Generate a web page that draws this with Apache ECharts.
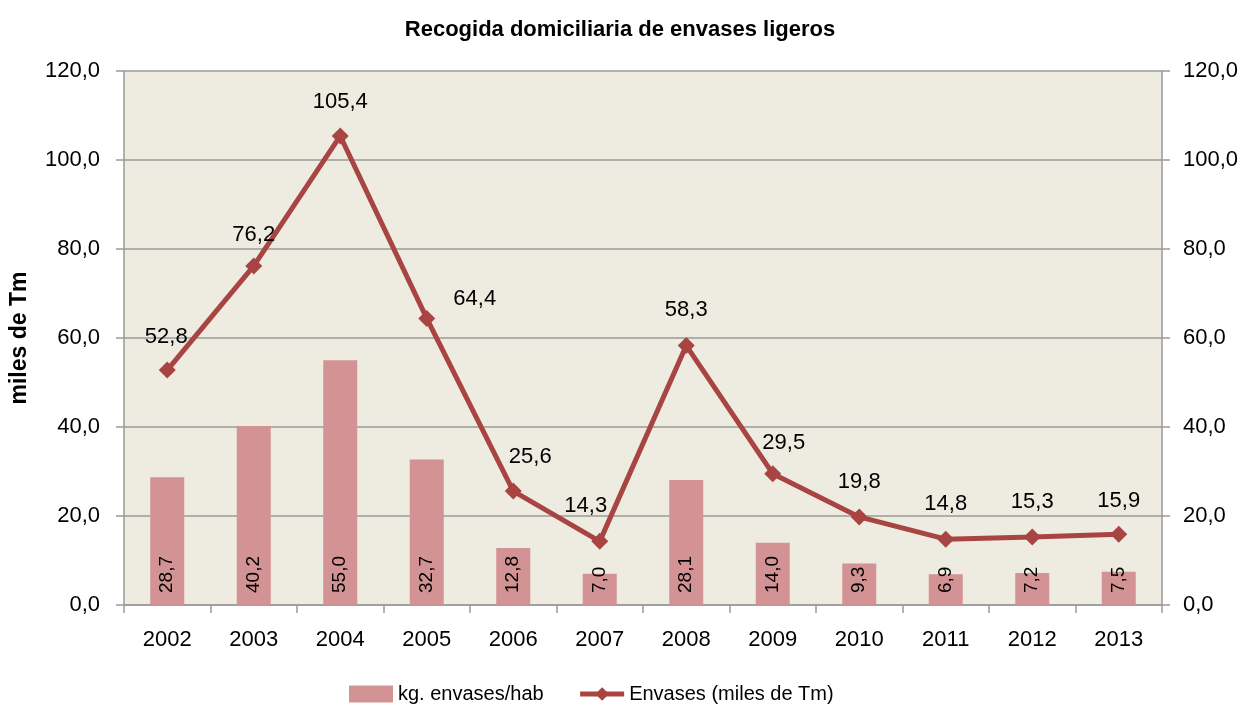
<!DOCTYPE html>
<html>
<head>
<meta charset="utf-8">
<script src="https://cdn.jsdelivr.net/npm/echarts@6/dist/echarts.min.js"></script>
<style>
  html, body { margin: 0; padding: 0; background: #fff; }
  #chart { width: 1243px; height: 709px; }
</style>
</head>
<body>
<div id="chart"></div>
<script>
// datos
var years = ['2002', '2003', '2004', '2005', '2006', '2007', '2008', '2009', '2010', '2011', '2012', '2013']
var kgHab = [28.7, 40.2, 55.0, 32.7, 12.8, 7.0, 28.1, 14.0, 9.3, 6.9, 7.2, 7.5]
var envases = [52.8, 76.2, 105.4, 64.4, 25.6, 14.3, 58.3, 29.5, 19.8, 14.8, 15.3, 15.9]
// desplazamiento de la etiqueta de cada punto de la linea
var lineLabelOffsets = [[-1, -4], [0, -1], [0, -5], [48, 10], [17, -5], [-14, -6], [0, -6], [11, -1], [0, -5], [0, -6], [0, -5], [0, -4]]

var font = '"Liberation Sans", Arial, sans-serif'
var fmt = function(v) { return Number(v).toFixed(1).replace('.', ',') }

var chart = echarts.init(document.getElementById('chart'))

var yAxisCommon = {
  type: 'value',
  min: 0,
  max: 120,
  interval: 20,
  axisLine: { show: true, lineStyle: { color: '#9a9a9a', width: 1.5 } },
  axisTick: { show: true, length: 8, lineStyle: { color: '#9a9a9a', width: 1.5 } },
  axisLabel: { color: '#000', fontSize: 22, fontFamily: font, formatter: fmt }
}

chart.setOption({
  textStyle: { fontFamily: font },
  title: {
    text: 'Recogida domiciliaria de envases ligeros',
    left: 615,
    textAlign: 'center',
    top: 14,
    textStyle: { fontSize: 22, fontWeight: 'bold', color: '#000', fontFamily: font }
  },
  grid: {
    left: 124,
    right: 81,
    top: 71,
    bottom: 104,
    show: true,
    backgroundColor: '#eeebe0',
    borderWidth: 0
  },
  legend: {
    bottom: 0,
    left: 344,
    itemGap: 34,
    itemWidth: 44,
    itemHeight: 17,
    textStyle: { fontSize: 20, color: '#000', fontFamily: font },
    data: [
      { name: 'kg. envases/hab', icon: 'rect' },
      { name: 'Envases (miles de Tm)', lineStyle: { width: 5 } }
    ]
  },
  xAxis: {
    type: 'category',
    data: years,
    axisLine: { lineStyle: { color: '#9a9a9a', width: 1.5 } },
    axisTick: { show: true, length: 8, lineStyle: { color: '#9a9a9a', width: 1.5 } },
    axisLabel: { color: '#000', fontSize: 22, fontFamily: font, margin: 24 }
  },
  yAxis: [
    Object.assign({}, yAxisCommon, {
      name: 'miles de Tm',
      nameLocation: 'middle',
      nameGap: 93,
      nameTextStyle: { fontSize: 23, fontWeight: 'bold', color: '#000', fontFamily: font },
      axisLabel: Object.assign({}, yAxisCommon.axisLabel, { margin: 24 }),
      splitLine: { show: true, lineStyle: { color: '#9a9a9a', width: 1.5 } }
    }),
    Object.assign({}, yAxisCommon, {
      position: 'right',
      axisLabel: Object.assign({}, yAxisCommon.axisLabel, { margin: 21 }),
      splitLine: { show: false }
    })
  ],
  series: [
    {
      name: 'kg. envases/hab',
      type: 'bar',
      yAxisIndex: 0,
      data: kgHab,
      barWidth: 34,
      itemStyle: { color: '#d39293' },
      label: {
        show: true,
        position: 'insideBottom',
        rotate: 90,
        align: 'left',
        verticalAlign: 'middle',
        distance: 12,
        color: '#000',
        fontSize: 19,
        fontFamily: font,
        formatter: function(p) { return fmt(p.value) }
      },
      z: 2
    },
    {
      name: 'Envases (miles de Tm)',
      type: 'line',
      yAxisIndex: 1,
      data: envases.map(function(v, i) {
        return { value: v, label: { offset: lineLabelOffsets[i] } }
      }),
      symbol: 'diamond',
      symbolSize: 17,
      lineStyle: { color: '#a84442', width: 5 },
      itemStyle: { color: '#a84442' },
      label: {
        show: true,
        position: 'top',
        distance: 10,
        color: '#000',
        fontSize: 22,
        fontFamily: font,
        formatter: function(p) { return fmt(p.value) }
      },
      z: 3
    }
  ]
})
</script>
</body>
</html>
